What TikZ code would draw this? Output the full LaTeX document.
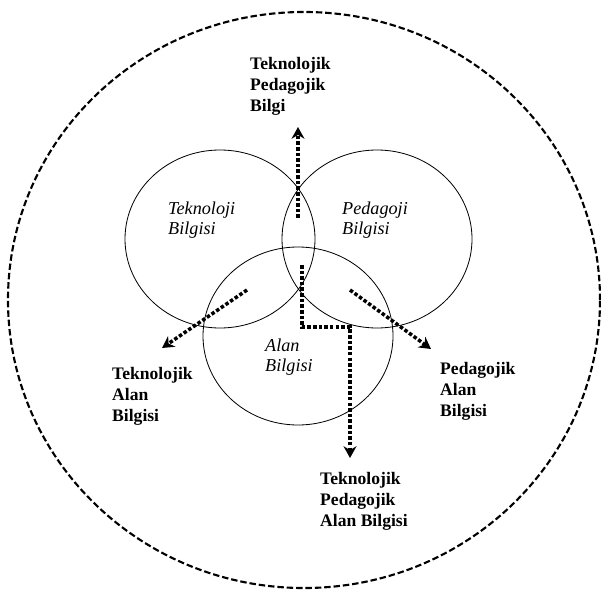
\documentclass[tikz,border=0pt]{standalone}
\usepackage{fontspec}
\setmainfont{Liberation Serif}
\usepackage{tikz}
\usetikzlibrary{arrows.meta,positioning,shapes.geometric}

\begin{document}
\begin{tikzpicture}[
  x=0.03cm, y=-0.03cm,
  field/.style={draw, ellipse, line width=1.8pt, dash pattern=on 5.5pt off 2.5pt,
                minimum width=17.76cm, minimum height=17.28cm, inner sep=0pt},
  ring/.style={draw, ellipse, line width=0.7pt, minimum width=5.7cm,
               minimum height=5.34cm, inner sep=0pt},
  area/.style={anchor=north west, inner sep=0pt, align=left,
               font=\fontsize{15.5}{16.5}\selectfont\itshape},
  kind/.style={anchor=north west, inner sep=0pt, align=left,
               font=\fontsize{15}{18}\selectfont\bfseries},
  arrow/.style={-{Stealth[length=10pt,width=11pt]}, line width=3pt,
                dash pattern=on 3pt off 1.8pt}
]
\useasboundingbox (0,0) rectangle (601,595);

% outer context
\node[field] (ctx) at (304,300) {};

% the three knowledge areas
\node[ring] (TK) at (220,239) {};
\node[ring] (PB) at (377,239) {};
\node[ring] (AB) at (298,336) {};
\node[area] (TKt) at (168,202) {Teknoloji\\Bilgisi};
\node[area] (PBt) at (342,202) {Pedagoji\\Bilgisi};
\node[area] (ABt) at (265,339) {Alan\\Bilgisi};

% intersections
\node[kind] (TPB)  at (250,57)  {Teknolojik\\Pedagojik\\Bilgi};
\node[kind] (TAB)  at (112,367) {Teknolojik\\Alan\\Bilgisi};
\node[kind] (PAB)  at (440,362) {Pedagojik\\Alan\\Bilgisi};
\node[kind] (TPAB) at (320,472) {Teknolojik\\Pedagojik\\Alan Bilgisi};

\coordinate (tpb0)  at (298,218);
\coordinate (tpb1)  at (298,127);
\coordinate (tab0)  at (247,290);
\coordinate (tab1)  at (162,348);
\coordinate (pab0)  at (350,290);
\coordinate (pab1)  at (431,349);
\coordinate (tpab0) at (302,265);
\coordinate (knee)  at (302,327);
\coordinate (tpab1) at (350,458);

\draw[arrow] (tpb0) -- (tpb1);
\draw[arrow] (tab0) -- (tab1);
\draw[arrow] (pab0) -- (pab1);
\draw[arrow] (tpab0) -- (knee) -| (tpab1);
\end{tikzpicture}
\end{document}
